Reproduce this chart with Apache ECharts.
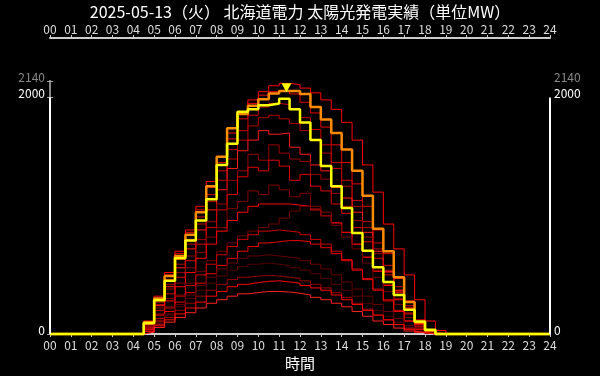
<!DOCTYPE html>
<html><head><meta charset="utf-8">
<script src="https://cdn.jsdelivr.net/npm/echarts@6.0.0/dist/echarts.min.js"></script>
<style>html,body{margin:0;padding:0;background:#000;}#c{width:600px;height:376px;}</style>
</head><body><div id="c"></div>
<script>
const titleText = '2025-05-13（火） 北海道電力 太陽光発電実績（単位MW）';
const xName = '時間';
const hourLabels = ['00','01','02','03','04','05','06','07','08','09','10','11','12','13','14','15','16','17','18','19','20','21','22','23','24'];
const yTicks = [0, 2000, 2140];
const times = [0,0.5,1,1.5,2,2.5,3,3.5,4,4.5,5,5.5,6,6.5,7,7.5,8,8.5,9,9.5,10,10.5,11,11.5,12,12.5,13,13.5,14,14.5,15,15.5,16,16.5,17,17.5,18,18.5,19,19.5,20,20.5,21,21.5,22,22.5,23,23.5,24];

// today (yellow)
const todayValues = [0,0,0,0,0,0,0,0,0,90,285,450,640,790,960,1140,1430,1610,1880,1900,1935,1950,1990,1900,1790,1640,1420,1250,1065,855,705,565,440,330,205,105,35,0,0,0,0,0,0,0,0,0,0,0,0];
// orange
const orangeValues = [0,0,0,0,0,0,0,0,0,100,300,490,660,840,1030,1250,1500,1740,1860,1930,1985,2035,2055,2055,2030,1920,1815,1700,1560,1380,1170,890,700,480,270,100,30,0,0,0,0,0,0,0,0,0,0,0,0];
// past days (red)
const day01 = [0,0,0,0,0,0,0,0,0,110,320,520,700,880,1080,1290,1500,1700,1860,1980,2050,2100,2120,2110,2080,2040,1980,1900,1790,1640,1430,1200,930,720,500,290,110,30,0,0,0,0,0,0,0,0,0,0,0];
const day02 = [0,0,0,0,0,0,0,0,0,100,300,500,680,860,1050,1240,1450,1650,1820,1950,2020,2050,2060,2030,1960,1870,1750,1600,1450,1270,1080,880,680,470,280,120,30,0,0,0,0,0,0,0,0,0,0,0,0];
const day03 = [0,0,0,0,0,0,0,0,0,90,270,460,630,800,990,1180,1380,1560,1720,1850,1920,1950,1940,1900,1830,1730,1600,1450,1300,1130,950,770,580,400,240,100,25,0,0,0,0,0,0,0,0,0,0,0,0];
const day04 = [0,0,0,0,0,0,0,0,0,80,250,420,590,760,930,1120,1300,1480,1640,1760,1830,1850,1820,1780,1720,1640,1530,1400,1250,1080,900,720,540,370,220,90,20,0,0,0,0,0,0,0,0,0,0,0,0];
const day05 = [0,0,0,0,0,0,0,0,0,80,240,400,560,720,880,1050,1220,1400,1550,1640,1720,1690,1700,1580,1520,1430,1380,1240,1150,1030,860,700,530,370,220,90,20,0,0,0,0,0,0,0,0,0,0,0,0];
const day06 = [0,0,0,0,0,0,0,0,0,70,220,380,520,660,800,950,1100,1300,1380,1520,1470,1600,1530,1480,1460,1350,1310,1190,1080,960,820,680,520,360,210,80,20,0,0,0,0,0,0,0,0,0,0,0,0];
const day07 = [0,0,0,0,0,0,0,0,0,60,200,340,480,620,760,900,1050,1180,1330,1410,1380,1470,1420,1300,1350,1250,1210,1100,1020,900,780,640,500,350,200,80,15,0,0,0,0,0,0,0,0,0,0,0,0];
const day08 = [0,0,0,0,0,0,0,0,0,50,170,300,430,560,690,820,900,1060,1120,1210,1180,1260,1220,1160,1190,1080,1030,940,860,760,650,540,420,300,180,70,15,0,0,0,0,0,0,0,0,0,0,0,0];
const day09 = [0,0,0,0,0,0,0,0,0,50,160,280,400,520,640,760,870,960,1030,1080,1100,1100,1100,1090,1080,1050,1000,940,860,760,650,530,410,290,170,60,10,0,0,0,0,0,0,0,0,0,0,0,0];
const day10 = [0,0,0,0,0,0,0,0,0,40,130,230,330,430,530,620,700,770,830,870,900,930,980,1040,1080,1060,1000,920,820,720,600,480,360,250,140,50,10,0,0,0,0,0,0,0,0,0,0,0,0];
const day11 = [0,0,0,0,0,0,0,0,0,40,130,220,320,410,500,590,670,740,800,840,870,880,870,860,840,800,760,700,630,550,470,380,290,200,110,40,5,0,0,0,0,0,0,0,0,0,0,0,0];
const day12 = [0,0,0,0,0,0,0,0,0,35,110,190,270,350,430,510,580,640,700,740,770,780,790,790,780,760,730,680,620,540,460,370,280,190,110,40,5,0,0,0,0,0,0,0,0,0,0,0,0];
const day13 = [0,0,0,0,0,0,0,0,0,30,100,170,250,330,410,480,550,600,640,660,670,660,650,640,620,590,550,500,440,380,320,250,190,130,70,25,5,0,0,0,0,0,0,0,0,0,0,0,0];
const day14 = [0,0,0,0,0,0,0,0,0,30,90,160,230,300,370,430,490,540,570,590,600,590,580,560,540,510,470,420,370,320,260,200,150,100,55,20,5,0,0,0,0,0,0,0,0,0,0,0,0];
const day15 = [0,0,0,0,0,0,0,0,0,25,80,140,200,260,320,370,420,460,480,490,495,490,480,470,450,420,390,350,310,260,210,160,120,80,45,15,0,0,0,0,0,0,0,0,0,0,0,0,0];
const day16 = [0,0,0,0,0,0,0,0,0,20,70,120,170,220,270,320,360,400,420,435,445,450,440,430,410,390,370,330,290,250,200,160,120,80,40,15,0,0,0,0,0,0,0,0,0,0,0,0,0];
const day17 = [0,0,0,0,0,0,0,0,0,15,55,100,140,180,220,260,290,320,340,350,360,360,355,345,330,310,290,260,230,190,150,110,80,50,25,10,0,0,0,0,0,0,0,0,0,0,0,0,0];
const pastDays = [day01,day02,day03,day04,day05,day06,day07,day08,day09,day10,day11,day12,day13,day14,day15,day16,day17];
const peakMark = [11.35, 1990];

const redColors = ['#ff0000','#e60000','#cc0000','#b30000','#ff1a1a','#990000','#dd0000','#800000','#ff0000','#700000','#cc0000','#ee0000','#660000','#550000','#990000','#ff0000','#ff2222'];
const FONT = '"Noto Sans CJK JP", "Noto Sans", sans-serif';

const pairs = v => times.map((t, i) => [t, v[i]]);
const series = [];
pastDays.forEach((d, i) => series.push({
  type: 'line', data: pairs(d), step: 'end', symbol: 'none', clip: false, silent: true,
  lineStyle: { color: redColors[i], width: 1 }, z: 2
}));
series.push({
  type: 'line', data: pairs(orangeValues), step: 'end', symbol: 'none', clip: false, silent: true,
  lineStyle: { color: '#ff8c00', width: 2.5 }, z: 3
});
series.push({
  type: 'line', data: pairs(todayValues), step: 'end', symbol: 'none', clip: false, silent: true,
  lineStyle: { color: '#ffff00', width: 2.5 }, z: 4,
  markPoint: {
    symbol: 'triangle', symbolRotate: 180, symbolSize: [10, 9], symbolOffset: [0, -11],
    itemStyle: { color: '#ffff00' }, label: { show: false },
    data: [{ coord: peakMark }]
  },
  markLine: {
    symbol: ['none', 'none'], silent: true, label: { show: false },
    lineStyle: { color: '#ffffff', width: 2, type: 'solid' },
    data: [
      [{ coord: [0, yTicks[0]] }, { coord: [0, yTicks[1]] }],
      [{ coord: [24, yTicks[0]] }, { coord: [24, yTicks[1]] }]
    ]
  }
});

const yLabel = {
  fontFamily: FONT, fontSize: 12, padding: [0, 0, 8, 0],
  formatter: v => (v === yTicks[2] ? '{g|' + v + '}' : '{w|' + v + '}'),
  rich: { g: { color: '#888', fontSize: 12, fontFamily: FONT }, w: { color: '#fff', fontSize: 12, fontFamily: FONT } }
};
const yBase = {
  type: 'value', min: yTicks[0], max: yTicks[2], interval: yTicks[1],
  axisLine: { show: true, lineStyle: { color: '#888', width: 2 } },
  axisTick: { show: true, length: 3, lineStyle: { color: '#aaa' } },
  splitLine: { show: false }
};
const xBase = {
  type: 'value', min: 0, max: 24, interval: 1,
  axisLine: { show: true, onZero: false, lineStyle: { color: '#cccccc', width: 2 } },
  axisTick: { show: true, length: 3, lineStyle: { color: '#cccccc' } },
  splitLine: { show: false },
};

const chart = echarts.init(document.getElementById('c'));
chart.setOption({
  backgroundColor: '#000',
  animation: false,
  title: { text: titleText, left: 'center', top: 4, padding: 0, textStyle: { color: '#fff', fontSize: 16, fontWeight: 'normal', fontFamily: FONT } },
  grid: { left: 50, right: 50, top: 81, bottom: 38.5 },
  xAxis: [
    Object.assign({}, xBase, {
      position: 'bottom',
      axisLabel: { formatter: v => hourLabels[v], color: '#ddd', fontSize: 12, fontFamily: FONT, margin: 5 },
      name: xName, nameLocation: 'middle', nameGap: 22,
      nameTextStyle: { color: '#fff', fontSize: 15, fontFamily: FONT }
    }),
    Object.assign({}, xBase, {
      position: 'top', offset: 43,
      axisLabel: { formatter: v => hourLabels[v], color: '#ddd', fontSize: 12, fontFamily: FONT, margin: 3 }
    })
  ],
  yAxis: [
    Object.assign({}, yBase, { position: 'left', axisLabel: Object.assign({}, yLabel, { margin: 5 }) }),
    Object.assign({}, yBase, { position: 'right', axisLabel: Object.assign({}, yLabel, { margin: 4 }) })
  ],
  series: series
});
</script></body></html>
